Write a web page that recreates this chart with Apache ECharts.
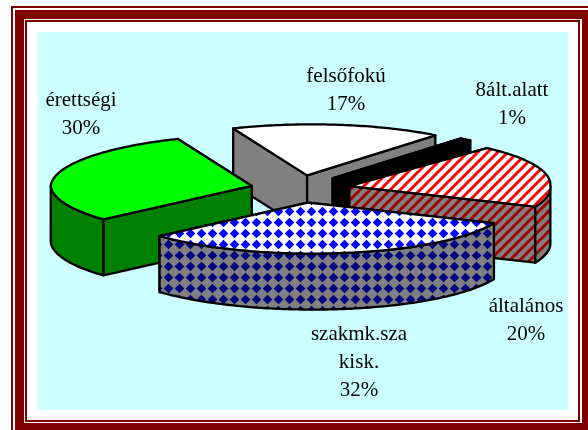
<!DOCTYPE html>
<html><head><meta charset="utf-8">
<style>html,body{margin:0;padding:0;background:#fff;overflow:hidden}#c{width:588px;height:430px}</style>
<script src="https://cdn.jsdelivr.net/npm/echarts@6/dist/echarts.min.js"></script>
</head><body><div id="c"></div>
<script>
// --- data (clockwise from the back-left edge of the pie) ---
const categories = ['felsőfokú', '8ált.alatt', 'általános', 'szakmk.sza\nkisk.', 'érettségi'];
const values = [17, 1, 20, 32, 30];
const percentLabels = ['17%', '1%', '20%', '32%', '30%'];
const drawOrder = [0, 1, 2, 4, 3];

// --- layout ---
const pie = {cx: 300.5, cy: 189, rx: 201, ry: 51, depth: 56, explodeX: 50, explodeY: 13.75, startAngle: 113, skew: 5};
const labelAnchors = [[346, 77], [512, 91], [526, 307], [359, 335], [81, 101]];

function tile(size, draw) {
  const c = document.createElement('canvas');
  c.width = c.height = size;
  draw(c.getContext('2d'), size);
  return {image: c, repeat: 'repeat'};
}
function stripes(bg, fg) {
  return tile(10, (g, n) => {
    g.fillStyle = bg; g.fillRect(0, 0, n, n);
    g.strokeStyle = fg; g.lineWidth = 3;
    for (let k = -n; k <= 2 * n; k += n) {
      g.beginPath(); g.moveTo(k - 1, n + 1); g.lineTo(k + n + 1, -1); g.stroke();
    }
  });
}
function diamonds(bg, fg) {
  return tile(11, (g, n) => {
    g.fillStyle = bg; g.fillRect(0, 0, n, n);
    g.fillStyle = fg;
    const cx = 3.5, cy = 2.5, r = 4.8;
    for (const dx of [0, n]) for (const dy of [0, n]) {
      g.beginPath();
      g.moveTo(cx + dx, cy + dy - r); g.lineTo(cx + dx + r, cy + dy);
      g.lineTo(cx + dx, cy + dy + r); g.lineTo(cx + dx - r, cy + dy);
      g.closePath(); g.fill();
    }
  });
}
const sliceStyle = [
  {top: '#ffffff', wall: '#808080'},
  {top: '#000000', wall: '#000000'},
  {top: stripes('#ffffff', '#ff0000'), wall: stripes('#808080', '#a00000')},
  {top: diamonds('#ffffff', '#0000ff'), wall: diamonds('#808080', '#000080')},
  {top: '#00ff00', wall: '#008000'}
];

const total = values.reduce((a, b) => a + b, 0);
const rad = d => d * Math.PI / 180;

function sliceAngles(i) {
  let s = pie.startAngle;
  for (let k = 0; k < i; k++) s -= values[k] / total * 360;
  return [s, s - values[i] / total * 360];
}
function renderSlice(params, api) {
  const i = api.value(1);
  const [a0, a1] = sliceAngles(i);
  const mid = rad((a0 + a1) / 2);
  const ax = pie.cx + pie.explodeX * Math.cos(mid);
  const ay = pie.cy - pie.explodeY * Math.sin(mid);
  const rim = d => [
    ax + pie.rx * Math.cos(rad(d)) + pie.skew * Math.abs(Math.sin(rad(d))),
    ay - pie.ry * Math.sin(rad(d))
  ];
  const down = p => [p[0], p[1] + pie.depth];
  const st = sliceStyle[i];
  const line = {stroke: '#000', lineWidth: 2.3, lineJoin: 'round'};
  const poly = (pts, fill) => ({type: 'polygon', shape: {points: pts}, style: Object.assign({fill}, line)});
  const arc = (from, to) => {
    const pts = [], n = Math.max(2, Math.ceil(Math.abs(from - to)));
    for (let k = 0; k <= n; k++) pts.push(rim(from + (to - from) * k / n));
    return pts;
  };
  const children = [];
  const apex = [ax, ay];
  const radial = [a0, a1].map(d => rim(d)).sort((p, q) => p[1] - q[1]);
  radial.forEach(p => children.push(poly([apex, p, down(p), down(apex)], st.wall)));
  const from = Math.min(a0, 0), to = Math.max(a1, -180);
  if (from > to) {
    const top = arc(from, to);
    children.push(poly(top.concat(top.map(down).reverse()), st.wall));
  }
  children.push(poly([apex].concat(arc(a0, a1)), st.top));
  return {type: 'group', children};
}
function renderLabel(params, api) {
  const i = api.value(1);
  return {
    type: 'text',
    style: {
      x: labelAnchors[i][0], y: labelAnchors[i][1] - 14,
      text: categories[i] + '\n' + percentLabels[i],
      font: '21px "Liberation Serif", serif', lineHeight: 27.7,
      fill: '#000', align: 'center', verticalAlign: 'top'
    }
  };
}
const frame = (x, y, w, h, fill) => ({type: 'rect', shape: {x, y, width: w, height: h}, style: {fill}});
const chart = echarts.init(document.getElementById('c'), null, {renderer: 'canvas'});
chart.setOption({
  animation: false,
  backgroundColor: '#ffffff',
  graphic: {elements: [
    frame(11, 6, 577, 424, '#800000'),
    frame(13, 8, 575, 422, '#ffffff'),
    frame(15, 10, 573, 420, '#800000'),
    frame(24, 19, 558, 404, '#ffffff'),
    frame(25, 20, 555, 402, '#800000'),
    frame(27, 22, 551, 398, '#ffffff'),
    frame(38, 32, 530, 378, '#ccffff')
  ]},
  series: [
    {type: 'custom', coordinateSystem: 'none', silent: true, renderItem: renderSlice,
     data: drawOrder.map(i => [values[i], i])},
    {type: 'custom', coordinateSystem: 'none', silent: true, renderItem: renderLabel,
     data: values.map((v, i) => [v, i])}
  ]
});
</script></body></html>
